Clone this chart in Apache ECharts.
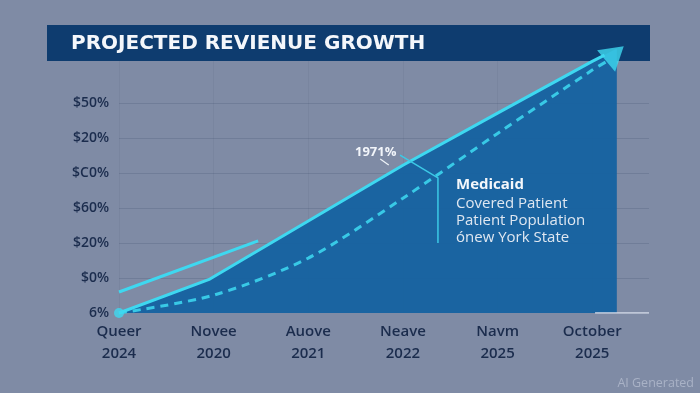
<!DOCTYPE html>
<html><head><meta charset="utf-8">
<script src="https://cdn.jsdelivr.net/npm/echarts@6/dist/echarts.min.js"></script>
<style>html,body{margin:0;padding:0;background:#7f8ba5}#c{width:700px;height:393px}</style>
</head><body><div id="c"></div>
<script>
// ---- data ----
const xTop = ['Queer', 'Novee', 'Auove', 'Neave', 'Navm', 'October'];
const xBottom = ['2024', '2020', '2021', '2022', '2025', '2025'];
const yLabels = ['6%', '$0%', '$20%', '$60%', '$C0%', '$20%', '$50%'];

const solidX = [0, 0.96, 2, 3, 4, 5, 5.13];
const solidY = [0, 0.97, 2.63, 4.22, 5.71, 7.19, 7.37];

const fillX = [0, 0.96, 2, 3, 4, 5, 5.26];
const fillY = [0, 0.97, 2.63, 4.22, 5.71, 7.19, 7.56];

const dashX = [0, 1, 2, 3, 4, 5, 5.18];
const dashY = [0, 0.51, 1.57, 3.28, 5.13, 6.94, 7.23];

const shortX = [0, 1.47];
const shortY = [0.6, 2.06];

const baseX = [5.03, 5.6];
const baseY = [0, 0];

const arrowX = [5.24];
const arrowY = [7.41];

const startX = [0];
const startY = [0];

// callout anchor points (data units)
const calloutX = [2.97, 3.37, 3.37];
const calloutY = [4.51, 3.86, 2.0];
const tickX = [2.76, 2.85];
const tickY = [4.4, 4.23];

const zip = (a, b) => a.map((v, i) => [v, b[i]]);

const CYAN = '#3ed8f0';
const DASH = '#38c9e6';
const GRIDC = 'rgba(40,55,90,0.16)';
const VGRID = 'rgba(40,55,90,0.07)';

const chart = echarts.init(document.getElementById('c'), null, {renderer: 'canvas'});
chart.setOption({
  animation: false,
  backgroundColor: '#7f8ba5',
  grid: {left: 119, right: 51, top: 33, bottom: 80},
  xAxis: {
    type: 'value', min: 0, max: 5.6, interval: 1,
    axisLine: {show: false}, axisTick: {show: false},
    splitLine: {show: true, lineStyle: {color: [VGRID, VGRID, VGRID, VGRID, VGRID, VGRID, 'transparent'], width: 1}},
    axisLabel: {
      formatter: v => Number.isInteger(v) && xTop[v] ? xTop[v] + '\n' + xBottom[v] : '',
      color: '#1b2c4d', fontSize: 15, lineHeight: 22, margin: 8,
      fontFamily: 'Open Sans', fontWeight: 600
    }
  },
  yAxis: {
    type: 'value', min: 0, max: 8, interval: 1,
    axisLine: {show: false}, axisTick: {show: false},
    splitLine: {show: true, lineStyle: {color: ['transparent', GRIDC, GRIDC, GRIDC, GRIDC, GRIDC, GRIDC, 'transparent', 'transparent'], width: 1}},
    axisLabel: {
      formatter: v => (yLabels[v] !== undefined ? yLabels[v] : ''),
      color: '#1b2c4d', fontSize: 14, margin: 10,
      fontFamily: 'Open Sans', fontWeight: 600
    }
  },
  series: [
    {type: 'line', data: zip(fillX, fillY), symbol: 'none', lineStyle: {width: 0},
     areaStyle: {color: 'rgba(21,98,160,0.95)', opacity: 1}, z: 1, silent: true},
    {type: 'line', data: zip(shortX, shortY), symbol: 'none', lineStyle: {width: 3, color: CYAN}, z: 3},
    {type: 'line', data: zip(dashX, dashY), symbol: 'none', smooth: 0.3,
     lineStyle: {width: 3, color: DASH, type: [8, 6]}, z: 3},
    {type: 'line', data: zip(solidX, solidY), symbol: 'none', lineStyle: {width: 3, color: CYAN}, z: 4},
    {type: 'line', data: zip(baseX, baseY), symbol: 'none', lineStyle: {width: 1.5, color: '#d3dae8'}, z: 5},
    {type: 'scatter', data: zip(startX, startY), symbol: 'circle', symbolSize: 10, itemStyle: {color: CYAN}, z: 5},
    {type: 'scatter', data: zip(arrowX, arrowY), symbol: 'triangle', symbolSize: [28, 23], symbolRotate: -50,
     itemStyle: {color: CYAN}, z: 6, clip: false}
  ]
});

const P = (x, y) => chart.convertToPixel({gridIndex: 0}, [x, y]);
const callPts = calloutX.map((v, i) => P(v, calloutY[i]));
const tickPts = tickX.map((v, i) => P(v, tickY[i]));

chart.setOption({
  graphic: [
    {type: 'rect', z: 0, shape: {x: 47, y: 25, width: 603, height: 36}, style: {fill: '#0e3c6f'}},
    {type: 'text', z: 1, style: {text: 'PROJECTED REVIENUE GROWTH', x: 71, y: 44, fill: '#f4f7fb',
      font: '700 20px "DejaVu Sans"', verticalAlign: 'middle'}},
    {type: 'polyline', z: 100, shape: {points: callPts}, style: {stroke: '#3cc9e6', lineWidth: 1.5, fill: null}},
    {type: 'polyline', z: 100, shape: {points: tickPts}, style: {stroke: '#eef3f8', lineWidth: 1.2, fill: null}},
    {type: 'text', z: 100, style: {text: '1971%', x: 355, y: 152, fill: '#f2f5fa', font: '700 13px "Open Sans"', verticalAlign: 'middle'}},
    {type: 'text', z: 100, style: {text: 'Medicaid', x: 456, y: 185, fill: '#f4f7fb', font: '700 15px "Open Sans"', verticalAlign: 'middle'}},
    {type: 'text', z: 100, style: {text: 'Covered Patient', x: 456, y: 203.5, fill: '#dfe7f1', font: '400 15px "Open Sans"', verticalAlign: 'middle'}},
    {type: 'text', z: 100, style: {text: 'Patient Population', x: 456, y: 221, fill: '#dfe7f1', font: '400 15px "Open Sans"', verticalAlign: 'middle'}},
    {type: 'text', z: 100, style: {text: 'ónew York State', x: 456, y: 238, fill: '#dfe7f1', font: '400 15px "Open Sans"', verticalAlign: 'middle'}},
    {type: 'text', z: 100, style: {text: 'AI Generated', x: 694, y: 383, fill: '#a9b2c6', font: '400 12.5px "Open Sans"', align: 'right', verticalAlign: 'middle'}}
  ]
});
</script></body></html>
